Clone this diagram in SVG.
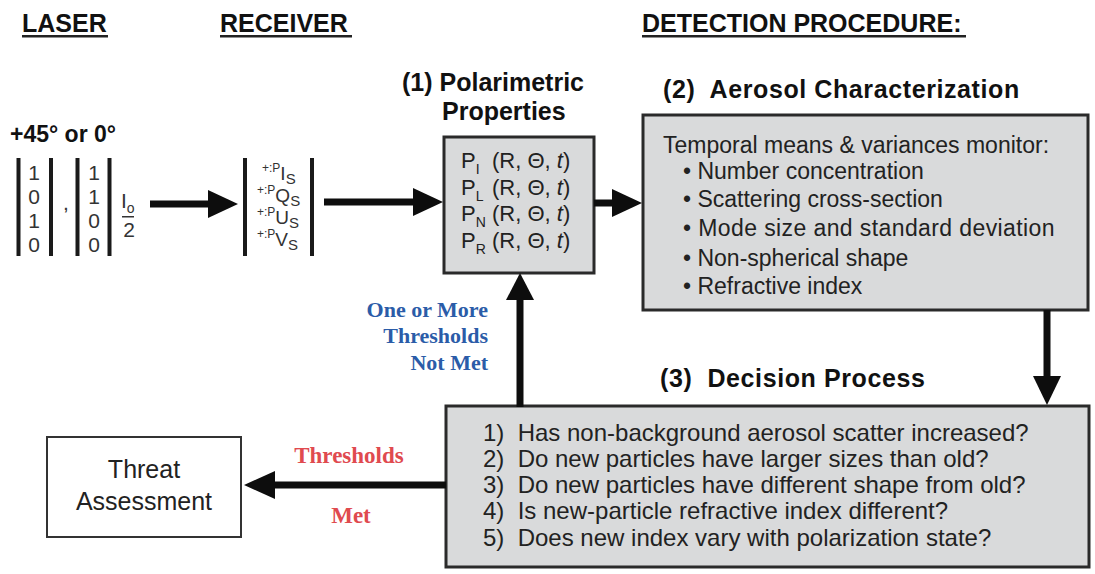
<svg xmlns="http://www.w3.org/2000/svg" width="1095" height="574" viewBox="0 0 1095 574">
<style>
.hdr{font-family:"Liberation Sans",Arial,sans-serif;font-weight:bold;font-size:25px;fill:#111}
.ttl{font-family:"Liberation Sans",Arial,sans-serif;font-weight:bold;font-size:25px;fill:#111}
.body{font-family:"Liberation Sans",Arial,sans-serif;font-size:23px;fill:#222}
.dec{font-family:"Liberation Sans",Arial,sans-serif;font-size:24px;fill:#222}
.mat{font-family:"Liberation Sans",Arial,sans-serif;font-size:21px;fill:#333}
.pol{font-family:"Liberation Sans",Arial,sans-serif;font-size:22px;fill:#222}
.sub{font-size:14px}
.box{fill:#d9dadb;stroke:#2a2a2a;stroke-width:3}
.bar{fill:#1a1a1a}
.line{stroke:#0d0d0d;stroke-width:7;fill:none}
.head{fill:#0d0d0d}
.blue{font-family:"Liberation Serif","Times New Roman",serif;font-weight:bold;font-size:22px;fill:#2b5ca8}
.red{font-family:"Liberation Serif","Times New Roman",serif;font-weight:bold;font-size:23px;fill:#e04a4f}
</style>

<g id="headers">
<text class="hdr" x="22" y="32">LASER</text>
<rect x="22" y="35" width="86" height="2.5" fill="#222"/>
<text class="hdr" x="220" y="32">RECEIVER</text>
<rect x="220" y="35" width="132" height="2.5" fill="#222"/>
<text class="hdr" x="642" y="32">DETECTION PROCEDURE:</text>
<rect x="642" y="35" width="324" height="2.5" fill="#222"/>
</g>

<g id="laser">
<text x="10" y="142" font-family="Liberation Sans, Arial, sans-serif" font-weight="bold" font-size="23" fill="#111">+45° or 0°</text>
<rect class="bar" x="16.5" y="158" width="4" height="98"/>
<rect class="bar" x="49" y="158" width="4" height="98"/>
<text class="mat" text-anchor="middle" x="34" y="180">1</text>
<text class="mat" text-anchor="middle" x="34" y="204">0</text>
<text class="mat" text-anchor="middle" x="34" y="228">1</text>
<text class="mat" text-anchor="middle" x="34" y="252">0</text>
<text class="mat" text-anchor="middle" x="66" y="210">,</text>
<rect class="bar" x="75.5" y="158" width="4" height="98"/>
<rect class="bar" x="107.5" y="158" width="4" height="98"/>
<text class="mat" text-anchor="middle" x="94" y="180">1</text>
<text class="mat" text-anchor="middle" x="94" y="204">1</text>
<text class="mat" text-anchor="middle" x="94" y="228">0</text>
<text class="mat" text-anchor="middle" x="94" y="252">0</text>
<text class="mat" x="121" y="208">I<tspan class="sub" dy="5">o</tspan></text>
<rect x="122" y="216" width="12" height="1.5" fill="#333"/>
<text class="mat" text-anchor="middle" x="129" y="237">2</text>
</g>

<g id="receiver">
<rect class="bar" x="243" y="158" width="4" height="98"/>
<rect class="bar" x="310" y="158" width="4" height="98"/>
<g font-family="Liberation Sans, Arial, sans-serif" fill="#333">
<text x="262" y="180"><tspan font-size="12" dy="-8">+:P</tspan><tspan font-size="19" dy="8">I</tspan><tspan font-size="15" dy="4">S</tspan></text>
<text x="257" y="202"><tspan font-size="12" dy="-8">+:P</tspan><tspan font-size="19" dy="8">Q</tspan><tspan font-size="15" dy="4">S</tspan></text>
<text x="257" y="224"><tspan font-size="12" dy="-8">+:P</tspan><tspan font-size="19" dy="8">U</tspan><tspan font-size="15" dy="4">S</tspan></text>
<text x="257" y="246"><tspan font-size="12" dy="-8">+:P</tspan><tspan font-size="19" dy="8">V</tspan><tspan font-size="15" dy="4">S</tspan></text>
</g>
</g>

<g id="polarimetric">
<text class="ttl" x="402" y="91">(1) Polarimetric</text>
<text class="ttl" x="442" y="120">Properties</text>
<rect class="box" x="444" y="137" width="150" height="136"/>
<text class="pol" x="461" y="168">P<tspan class="sub" dy="6">I</tspan></text>
<text class="pol" x="492" y="168">(R, Θ, <tspan font-style="italic">t</tspan>)</text>
<text class="pol" x="461" y="194.5">P<tspan class="sub" dy="6">L</tspan></text>
<text class="pol" x="492" y="194.5">(R, Θ, <tspan font-style="italic">t</tspan>)</text>
<text class="pol" x="461" y="221">P<tspan class="sub" dy="6">N</tspan></text>
<text class="pol" x="492" y="221">(R, Θ, <tspan font-style="italic">t</tspan>)</text>
<text class="pol" x="461" y="247.5">P<tspan class="sub" dy="6">R</tspan></text>
<text class="pol" x="492" y="247.5">(R, Θ, <tspan font-style="italic">t</tspan>)</text>
</g>

<g id="aerosol">
<text class="ttl" x="663" y="98" letter-spacing="0.6" xml:space="preserve">(2)  Aerosol Characterization</text>
<rect class="box" x="643" y="115" width="445" height="195"/>
<text class="body" x="663" y="153">Temporal means &amp; variances monitor:</text>
<text class="body" x="683" y="179">• Number concentration</text>
<text class="body" x="683" y="207">• Scattering cross-section</text>
<text class="body" x="683" y="236" letter-spacing="0.4">• Mode size and standard deviation</text>
<text class="body" x="683" y="266">• Non-spherical shape</text>
<text class="body" x="683" y="294">• Refractive index</text>
</g>

<g id="decision">
<text class="ttl" x="660" y="387" letter-spacing="0.6" xml:space="preserve">(3)  Decision Process</text>
<rect class="box" x="446" y="406" width="643" height="161"/>
<text class="dec" x="483" y="441" xml:space="preserve">1)  Has non-background aerosol scatter increased?</text>
<text class="dec" x="483" y="467" xml:space="preserve">2)  Do new particles have larger sizes than old?</text>
<text class="dec" x="483" y="493" xml:space="preserve">3)  Do new particles have different shape from old?</text>
<text class="dec" x="483" y="519" xml:space="preserve">4)  Is new-particle refractive index different?</text>
<text class="dec" x="483" y="546" xml:space="preserve">5)  Does new index vary with polarization state?</text>
</g>

<g id="threat">
<rect x="47" y="437" width="194" height="100" fill="#fff" stroke="#333" stroke-width="2"/>
<text x="144" y="478" text-anchor="middle" font-family="Liberation Sans, Arial, sans-serif" font-size="25" fill="#222">Threat</text>
<text x="144" y="510" text-anchor="middle" font-family="Liberation Sans, Arial, sans-serif" font-size="25" fill="#222">Assessment</text>
</g>

<g id="connectors">
<line class="line" x1="150" y1="204" x2="210" y2="204"/>
<polygon class="head" points="208,190 238,204 208,218"/>
<line class="line" x1="324" y1="202" x2="415" y2="202"/>
<polygon class="head" points="413,188 443,202 413,216"/>
<line class="line" x1="594" y1="203" x2="614" y2="203"/>
<polygon class="head" points="612,189 642,203 612,217"/>
<line class="line" x1="1047" y1="310" x2="1047" y2="378"/>
<polygon class="head" points="1033,376 1061,376 1047,405"/>
<line class="line" x1="520" y1="407" x2="520" y2="298"/>
<polygon class="head" points="506,300 534,300 520,273"/>
<line class="line" x1="446" y1="485" x2="273" y2="485"/>
<polygon class="head" points="275,471 275,499 244,485"/>
</g>

<g id="labels">
<text class="blue" x="488" y="317" text-anchor="end">One or More</text>
<text class="blue" x="488" y="343" text-anchor="end">Thresholds</text>
<text class="blue" x="488" y="370" text-anchor="end">Not Met</text>
<text class="red" x="349" y="463" text-anchor="middle">Thresholds</text>
<text class="red" x="351" y="523" text-anchor="middle">Met</text>
</g>
</svg>
